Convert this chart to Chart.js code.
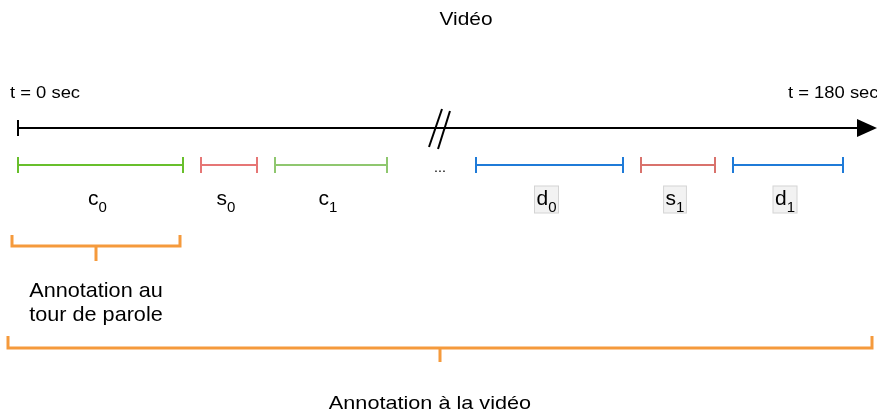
<!DOCTYPE html>
<html>
<head>
<meta charset="utf-8">
<script src="https://cdn.jsdelivr.net/npm/chart.js@4"></script>
<style>
  body { margin: 0; background: #fff; }
  canvas { display: block; }
</style>
</head>
<body>
<canvas id="diagram" width="877" height="415"></canvas>
<script>
// timeline segments (diagram units)
var segNames = ['c', 's', 'c', 'd', 's', 'd'];
var segSubs = ['0', '0', '1', '0', '1', '1'];
var segStart = [18, 201, 275, 476, 641, 733];
var segEnd = [183, 257, 387, 623, 715, 843];

var axisStart = 18;
var axisEnd = 877;
var tickLabels = ['t = 0 sec', 't = 180 sec'];
var title = 'Vidéo';

// brackets: [from, to] and their captions
var bracketFrom = [12, 8];
var bracketTo = [180, 872];
var bracketCaptions = [['Annotation au', 'tour de parole'], ['Annotation à la vidéo']];

// styles
var segColors = ['#68bf2c', '#e67675', '#8fc76f', '#1f7bd8', '#d9726c', '#1f7bd8'];
var segBoxed = [false, false, false, true, true, true];
var orange = '#f59a3c';
var FONT = '"Liberation Sans", Arial, sans-serif';

var AXIS_Y = 128, SEG_Y = 165, LABEL_Y = 205;
var bracketRows = [[235, 246, 261], [336, 348, 362]];

var datasets = [];

// main time axis
datasets.push({
    data: [{x: axisStart, y: AXIS_Y}, {x: axisEnd - 18, y: AXIS_Y}],
    borderColor: '#000', borderWidth: 2,
    pointStyle: ['line', false], pointRotation: 90, pointRadius: 8,
    pointBorderColor: '#000', pointBorderWidth: 2
});

// break marks
datasets.push({
    data: [{x: 429, y: 147}, {x: 442, y: 109}],
    borderColor: '#000', borderWidth: 2, pointRadius: 0
});
datasets.push({
    data: [{x: 438, y: 149}, {x: 450, y: 111}],
    borderColor: '#000', borderWidth: 2, pointRadius: 0
});

segStart.forEach(function (s, i) {
    datasets.push({
        data: [{x: s, y: SEG_Y}, {x: segEnd[i], y: SEG_Y}],
        borderColor: segColors[i], borderWidth: 2,
        pointStyle: 'line', pointRotation: 90, pointRadius: 8,
        pointBorderColor: segColors[i], pointBorderWidth: 2
    });
});

bracketFrom.forEach(function (a, i) {
    var b = bracketTo[i], mid = (a + b) / 2, r = bracketRows[i];
    datasets.push({
        data: [
            {x: a, y: r[0]}, {x: a, y: r[1]}, {x: mid, y: r[1]}, {x: mid, y: r[2]},
            {x: mid, y: r[1]}, {x: b, y: r[1]}, {x: b, y: r[0]}
        ],
        borderColor: orange, borderWidth: 3, pointRadius: 0,
        borderJoinStyle: 'miter', borderCapStyle: 'butt'
    });
});

function stretchText(ctx, text, x, y, size, sx, align) {
    ctx.save();
    ctx.font = size + 'px ' + FONT;
    ctx.textAlign = align || 'center';
    ctx.textBaseline = 'alphabetic';
    ctx.translate(x, y);
    ctx.scale(sx, 1);
    ctx.fillText(text, 0, 0);
    ctx.restore();
}

var textPlugin = {
    id: 'diagramText',
    afterDatasetsDraw: function (chart) {
        var ctx = chart.ctx;
        var xs = chart.scales.x, ys = chart.scales.y;
        ctx.fillStyle = '#000';

        stretchText(ctx, title, xs.getPixelForValue(466), ys.getPixelForValue(25), 19, 1.1);
        stretchText(ctx, tickLabels[0], xs.getPixelForValue(10), ys.getPixelForValue(98), 16, 1.15, 'left');
        stretchText(ctx, tickLabels[1], xs.getPixelForValue(788), ys.getPixelForValue(98), 16, 1.15, 'left');

        // arrow head
        ctx.beginPath();
        ctx.moveTo(xs.getPixelForValue(857), ys.getPixelForValue(AXIS_Y - 9));
        ctx.lineTo(xs.getPixelForValue(877), ys.getPixelForValue(AXIS_Y));
        ctx.lineTo(xs.getPixelForValue(857), ys.getPixelForValue(AXIS_Y + 9));
        ctx.closePath();
        ctx.fill();

        stretchText(ctx, '...', xs.getPixelForValue(440), ys.getPixelForValue(172), 13, 1.1);

        // segment labels with subscripts
        segNames.forEach(function (n, i) {
            ctx.font = '21px ' + FONT;
            var w1 = ctx.measureText(n).width;
            ctx.font = '15px ' + FONT;
            var w2 = ctx.measureText(segSubs[i]).width;
            var cx = xs.getPixelForValue((segStart[i] + segEnd[i]) / 2) - 3;
            var left = cx - (w1 + w2) / 2;
            var base = ys.getPixelForValue(LABEL_Y);
            if (segBoxed[i]) {
                ctx.fillStyle = '#f2f2f2';
                ctx.strokeStyle = '#d4d4d4';
                ctx.lineWidth = 1;
                ctx.fillRect(left - 2, base - 19, w1 + w2 + 4, 27);
                ctx.strokeRect(left - 2, base - 19, w1 + w2 + 4, 27);
            }
            ctx.fillStyle = '#000';
            stretchText(ctx, n, left, base, 21, 1, 'left');
            stretchText(ctx, segSubs[i], left + w1, base + 7, 15, 1, 'left');
        });

        // bracket captions
        stretchText(ctx, bracketCaptions[0][0], xs.getPixelForValue(96), ys.getPixelForValue(297), 21, 1.03);
        stretchText(ctx, bracketCaptions[0][1], xs.getPixelForValue(96), ys.getPixelForValue(321), 21, 1.03);
        stretchText(ctx, bracketCaptions[1][0], xs.getPixelForValue(430), ys.getPixelForValue(409), 19, 1.14);
    }
};

var chart = new Chart(document.getElementById('diagram'), {
    type: 'scatter',
    data: {datasets: datasets},
    options: {
        responsive: false,
        animation: false,
        showLine: true,
        layout: {padding: 0, autoPadding: false},
        plugins: {legend: {display: false}, tooltip: {enabled: false}},
        scales: {
            x: {type: 'linear', min: 0, max: 877, display: false},
            y: {type: 'linear', min: 0, max: 415, reverse: true, display: false}
        }
    },
    plugins: [textPlugin]
});
</script>
</body>
</html>
